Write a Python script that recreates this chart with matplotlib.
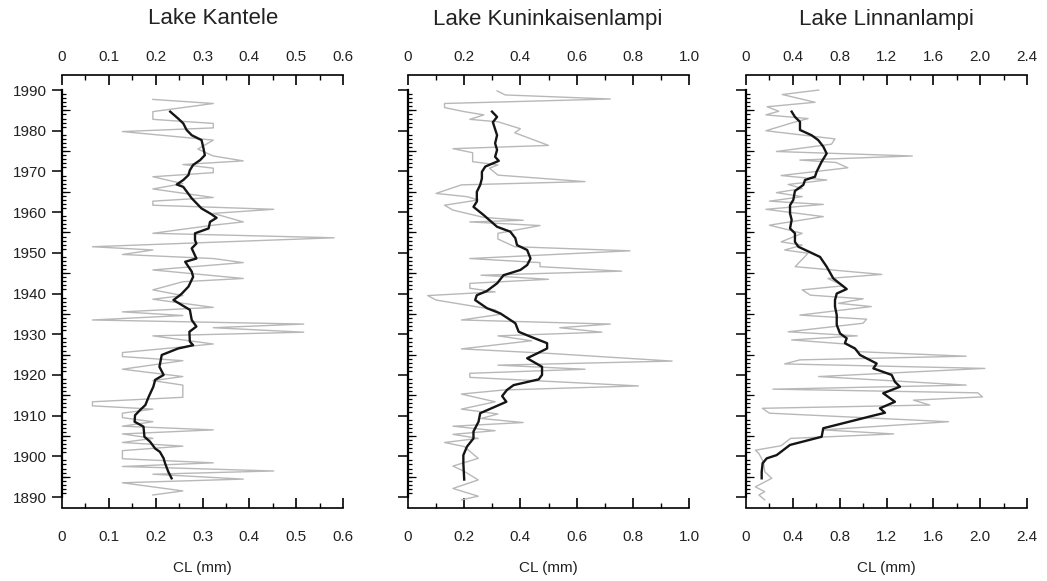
import matplotlib
matplotlib.use("Agg")
import matplotlib.pyplot as plt
from matplotlib.ticker import MultipleLocator, FixedLocator, NullFormatter

plt.rcParams['font.family'] = ['Liberation Sans', 'DejaVu Sans']

# ---------------- data ----------------
titles = ["Lake Kantele", "Lake Kuninkaisenlampi", "Lake Linnanlampi"]
x_max = [0.6, 1.0, 2.4]
x_major = [0.1, 0.2, 0.4]
x_ticklabels = [["0", "0.1", "0.2", "0.3", "0.4", "0.5", "0.6"],
                ["0", "0.2", "0.4", "0.6", "0.8", "1.0"],
                ["0", "0.4", "0.8", "1.2", "1.6", "2.0", "2.4"]]
year_ticks = [1890, 1900, 1910, 1920, 1930, 1940, 1950, 1960, 1970, 1980, 1990]

kantele_raw_year = [1987.7, 1986.7, 1984.7, 1982.8, 1981.8, 1980.7, 1979.8, 1977.7, 1975.5, 1973.8,
                    1972.6, 1971.7, 1970.8, 1969.7, 1968.7, 1967.0, 1965.7, 1963.6, 1962.7, 1961.7,
                    1960.7, 1959.7, 1957.6, 1956.8, 1954.8, 1953.7, 1951.5, 1950.7, 1949.6, 1948.6,
                    1947.6, 1945.8, 1943.7, 1942.9, 1940.9, 1939.5, 1938.6, 1936.6, 1935.5, 1934.6,
                    1933.5, 1932.5, 1931.6, 1930.5, 1929.6, 1927.6, 1925.5, 1924.5, 1923.5, 1921.4,
                    1919.6, 1918.6, 1917.5, 1914.5, 1913.4, 1912.4, 1911.6, 1910.6, 1909.5, 1908.5,
                    1907.4, 1906.5, 1905.5, 1904.4, 1903.4, 1902.5, 1901.4, 1899.4, 1898.4, 1897.5,
                    1896.4, 1895.6, 1894.4, 1893.5, 1891.5, 1890.5]
kantele_raw_cl = [0.194, 0.323, 0.194, 0.194, 0.323, 0.323, 0.129, 0.323, 0.290, 0.323,
                  0.387, 0.258, 0.323, 0.323, 0.194, 0.258, 0.194, 0.323, 0.194, 0.194,
                  0.452, 0.323, 0.387, 0.323, 0.194, 0.581, 0.065, 0.194, 0.129, 0.323,
                  0.387, 0.194, 0.387, 0.258, 0.194, 0.258, 0.194, 0.323, 0.129, 0.258,
                  0.065, 0.516, 0.323, 0.516, 0.194, 0.323, 0.129, 0.129, 0.258, 0.129,
                  0.258, 0.194, 0.258, 0.258, 0.065, 0.065, 0.194, 0.129, 0.129, 0.194,
                  0.129, 0.323, 0.129, 0.194, 0.129, 0.258, 0.129, 0.129, 0.323, 0.129,
                  0.452, 0.194, 0.387, 0.129, 0.258, 0.194]
kantele_smooth_year = [1984.7, 1983.0, 1981.8, 1980.2, 1978.9, 1977.7, 1975.7, 1974.0, 1972.8, 1971.6,
                       1970.3, 1969.1, 1967.9, 1966.8, 1966.2, 1963.4, 1960.9, 1959.5, 1958.6, 1957.6,
                       1956.0, 1954.8, 1953.1, 1952.3, 1951.1, 1948.6, 1947.8, 1945.4, 1944.1, 1941.7,
                       1940.0, 1939.6, 1938.4, 1936.0, 1933.5, 1931.9, 1930.6, 1928.2, 1927.3, 1926.5,
                       1924.9, 1922.0, 1920.0, 1918.8, 1917.1, 1914.6, 1912.6, 1911.4, 1910.1, 1908.5,
                       1907.3, 1904.8, 1903.6, 1901.9, 1901.1, 1899.5, 1898.3, 1896.2, 1894.6]
kantele_smooth_cl = [0.231, 0.248, 0.259, 0.266, 0.277, 0.298, 0.302, 0.305, 0.295, 0.280,
                     0.273, 0.270, 0.259, 0.245, 0.259, 0.277, 0.298, 0.319, 0.330, 0.316,
                     0.313, 0.284, 0.284, 0.287, 0.277, 0.287, 0.263, 0.277, 0.280, 0.270,
                     0.256, 0.252, 0.238, 0.273, 0.277, 0.287, 0.272, 0.273, 0.280, 0.248,
                     0.213, 0.208, 0.217, 0.199, 0.195, 0.185, 0.178, 0.167, 0.156, 0.155,
                     0.174, 0.176, 0.188, 0.199, 0.209, 0.217, 0.220, 0.227, 0.234]

kun_raw_year = [1989.8, 1988.8, 1987.8, 1986.7, 1985.7, 1984.7, 1983.9, 1982.8, 1982.2, 1980.5,
                1979.5, 1976.4, 1975.6, 1974.6, 1972.4, 1971.6, 1970.8, 1969.1, 1967.5, 1966.7,
                1964.6, 1963.8, 1963.0, 1961.7, 1960.5, 1958.7, 1958.0, 1957.6, 1956.7, 1954.8,
                1953.4, 1951.5, 1950.5, 1948.6, 1947.6, 1946.6, 1945.5, 1944.5, 1943.5, 1942.5,
                1941.3, 1940.4, 1939.5, 1938.4, 1936.0, 1934.9, 1933.5, 1932.5, 1931.6, 1930.5,
                1929.6, 1928.4, 1926.4, 1925.3, 1923.4, 1922.4, 1921.4, 1920.4, 1919.4, 1917.3,
                1916.3, 1915.3, 1913.4, 1911.6, 1910.4, 1909.3, 1908.3, 1907.4, 1906.3, 1905.4,
                1904.4, 1903.4, 1902.4, 1899.5, 1897.6, 1896.3, 1894.2, 1892.1, 1890.2, 1889.3]
kun_raw_cl = [0.317, 0.346, 0.72, 0.13, 0.13, 0.20, 0.27, 0.22, 0.32, 0.40,
              0.38, 0.50, 0.16, 0.23, 0.23, 0.32, 0.29, 0.32, 0.63, 0.19,
              0.10, 0.21, 0.25, 0.13, 0.16, 0.27, 0.41, 0.22, 0.47, 0.32,
              0.32, 0.38, 0.79, 0.22, 0.47, 0.47, 0.76, 0.26, 0.50, 0.22,
              0.22, 0.31, 0.07, 0.10, 0.31, 0.33, 0.19, 0.72, 0.54, 0.69,
              0.32, 0.44, 0.19, 0.50, 0.94, 0.32, 0.63, 0.22, 0.22, 0.82,
              0.34, 0.19, 0.31, 0.19, 0.32, 0.26, 0.41, 0.16, 0.31, 0.16,
              0.25, 0.13, 0.20, 0.25, 0.16, 0.20, 0.25, 0.16, 0.25, 0.19]
kun_smooth_year = [1984.7, 1983.4, 1982.1, 1978.9, 1976.9, 1975.3, 1973.6, 1972.6, 1971.2, 1969.9,
                   1968.3, 1966.7, 1965.0, 1962.6, 1961.3, 1959.3, 1956.4, 1955.2, 1953.6, 1951.9,
                   1950.7, 1948.6, 1947.0, 1945.8, 1944.5, 1942.5, 1940.6, 1939.6, 1938.4, 1936.4,
                   1935.1, 1932.7, 1930.6, 1929.4, 1927.8, 1926.5, 1925.3, 1924.1, 1922.0, 1920.0,
                   1918.9, 1917.5, 1916.3, 1914.8, 1913.4, 1912.4, 1910.6, 1908.5, 1906.1, 1904.4,
                   1902.4, 1900.3, 1898.3, 1894.3]
kun_smooth_cl = [0.299, 0.317, 0.302, 0.317, 0.310, 0.317, 0.310, 0.323, 0.275, 0.263,
                 0.263, 0.257, 0.245, 0.245, 0.233, 0.269, 0.317, 0.364, 0.382, 0.388,
                 0.424, 0.436, 0.424, 0.400, 0.340, 0.317, 0.280, 0.245, 0.239, 0.281,
                 0.329, 0.382, 0.394, 0.436, 0.495, 0.495, 0.460, 0.424, 0.477, 0.477,
                 0.465, 0.376, 0.352, 0.335, 0.350, 0.317, 0.257, 0.251, 0.233, 0.233,
                 0.210, 0.197, 0.197, 0.200]

lin_raw_year = [1990.0, 1988.9, 1987.0, 1985.9, 1984.8, 1983.9, 1983.0, 1982.0, 1980.0, 1978.0,
                1976.7, 1974.9, 1973.8, 1972.8, 1972.2, 1970.9, 1969.0, 1967.9, 1966.8, 1965.8,
                1964.8, 1963.8, 1962.7, 1961.9, 1960.7, 1958.9, 1956.8, 1954.8, 1952.7, 1951.9,
                1950.7, 1949.9, 1946.6, 1944.7, 1943.7, 1941.9, 1940.9, 1939.6, 1938.7, 1937.6,
                1936.8, 1934.7, 1933.7, 1932.7, 1930.6, 1929.6, 1928.6, 1927.6, 1925.7, 1924.6,
                1923.7, 1922.7, 1921.6, 1919.6, 1917.5, 1916.5, 1915.6, 1914.6, 1913.8, 1912.6,
                1911.8, 1910.6, 1908.5, 1906.5, 1905.5, 1904.4, 1902.6, 1901.5, 1900.7, 1898.5,
                1896.2, 1894.6, 1892.5, 1891.3, 1890.5, 1889.3]
lin_raw_cl = [0.62, 0.31, 0.59, 0.18, 0.28, 0.17, 0.53, 0.40, 0.17, 0.76,
              0.73, 0.26, 1.42, 0.46, 0.77, 0.87, 0.30, 0.69, 0.36, 0.48,
              0.26, 0.48, 0.20, 0.66, 0.17, 0.66, 0.20, 0.48, 0.30, 0.48,
              0.33, 0.53, 0.42, 1.16, 0.70, 0.83, 0.48, 0.55, 1.00, 0.79,
              1.07, 0.46, 1.03, 1.00, 0.36, 0.95, 0.39, 0.85, 0.97, 1.88,
              0.46, 0.33, 2.04, 0.62, 1.88, 0.23, 1.98, 2.02, 1.43, 1.57,
              0.14, 0.20, 1.73, 0.66, 1.26, 0.38, 0.30, 0.08, 0.11, 0.15,
              0.16, 0.22, 0.08, 0.16, 0.11, 0.16]
lin_smooth_year = [1984.7, 1983.4, 1982.2, 1980.2, 1978.9, 1977.7, 1976.1, 1974.4, 1972.4, 1969.9,
                   1968.7, 1967.9, 1966.7, 1965.2, 1963.0, 1961.7, 1959.7, 1958.1, 1956.0, 1954.8,
                   1952.7, 1951.5, 1949.0, 1946.6, 1943.7, 1941.1, 1940.0, 1938.4, 1936.8, 1934.7,
                   1932.3, 1930.2, 1929.0, 1927.8, 1926.5, 1924.9, 1922.8, 1921.6, 1920.0, 1918.3,
                   1917.1, 1915.5, 1913.4, 1911.8, 1910.7, 1910.1, 1906.9, 1904.8, 1902.8, 1900.3,
                   1899.5, 1898.3, 1896.2, 1894.6]
lin_smooth_cl = [0.390, 0.418, 0.461, 0.461, 0.560, 0.617, 0.660, 0.689, 0.646, 0.603,
                 0.589, 0.504, 0.490, 0.418, 0.404, 0.376, 0.376, 0.390, 0.376, 0.418,
                 0.418, 0.447, 0.632, 0.689, 0.746, 0.860, 0.775, 0.760, 0.760, 0.775,
                 0.775, 0.803, 0.860, 0.845, 0.931, 0.974, 1.116, 1.088, 1.244, 1.272,
                 1.315, 1.172, 1.272, 1.144, 1.187, 1.101, 0.660, 0.646, 0.376, 0.262,
                 0.177, 0.142, 0.134, 0.134]

raw_years = [kantele_raw_year, kun_raw_year, lin_raw_year]
raw_vals = [kantele_raw_cl, kun_raw_cl, lin_raw_cl]
smooth_years = [kantele_smooth_year, kun_smooth_year, lin_smooth_year]
smooth_vals = [kantele_smooth_cl, kun_smooth_cl, lin_smooth_cl]

# ---------------- figure ----------------
W, H = 1047, 581
fig = plt.figure(figsize=(W / 100, H / 100), dpi=100)
lefts_px = [62, 408, 746]
title_cx_px = [213, 548, 886]
width_px = 281
top_px, bottom_px = 75, 508
txt = '#222222'

for i in range(3):
    ax = fig.add_axes([lefts_px[i] / W, 1 - bottom_px / H, width_px / W, (bottom_px - top_px) / H])
    ax.plot(raw_vals[i], raw_years[i], color='#b8b8b8', lw=1.0, zorder=2)
    ax.plot(smooth_vals[i], smooth_years[i], color='#151515', lw=1.7, zorder=3)
    ax.set_xlim(0, x_max[i])
    ax.set_ylim(1887.3, 1993.7)

    for s in ['right', 'top']:
        ax.spines[s].set_visible(False)
    ax.spines['left'].set_bounds(1890, 1990)
    ax.spines['left'].set_linewidth(1.6)
    ax.spines['bottom'].set_linewidth(1.2)

    # y axis
    ax.yaxis.set_major_locator(FixedLocator(year_ticks))
    ax.yaxis.set_minor_locator(FixedLocator(list(range(1890, 1991))))
    ax.tick_params(axis='y', which='major', direction='out', length=7, width=1.1,
                   labelsize=11, pad=4, labelleft=(i == 0), labelcolor=txt)
    ax.tick_params(axis='y', which='minor', direction='in', length=3, width=0.9)
    sec_y = ax.secondary_yaxis('left')
    sec_y.spines['left'].set_visible(False)
    sec_y.yaxis.set_major_locator(FixedLocator(list(range(1895, 1990, 10))))
    sec_y.yaxis.set_major_formatter(NullFormatter())
    sec_y.tick_params(axis='y', direction='in', length=5.5, width=0.9)

    # bottom x axis
    ticks = [k * x_major[i] for k in range(len(x_ticklabels[i]))]
    ax.xaxis.set_major_locator(FixedLocator(ticks))
    ax.set_xticklabels(x_ticklabels[i])
    ax.xaxis.set_minor_locator(MultipleLocator(x_major[i] / 2))
    ax.tick_params(axis='x', which='major', direction='in', length=7, width=1.2,
                   labelsize=11, pad=16, labelcolor=txt)
    ax.tick_params(axis='x', which='minor', direction='in', length=3.5, width=1.0)

    # top x axis
    sec_x = ax.secondary_xaxis('top')
    sec_x.spines['top'].set_linewidth(1.2)
    sec_x.xaxis.set_major_locator(FixedLocator(ticks))
    sec_x.set_xticklabels(x_ticklabels[i])
    sec_x.xaxis.set_minor_locator(MultipleLocator(x_major[i] / 2))
    sec_x.tick_params(axis='x', which='major', direction='in', length=7, width=1.2,
                      labelsize=11, pad=8, labelcolor=txt)
    sec_x.tick_params(axis='x', which='minor', direction='in', length=3.5, width=1.0)

    cx = (lefts_px[i] + width_px / 2) / W
    fig.text(title_cx_px[i] / W, 1 - 19 / H, titles[i], ha='center', va='center',
             fontsize=16, color=txt)
    fig.text(cx, 1 - 568 / H, "CL (mm)", ha='center', va='center', fontsize=11, color=txt)

fig.savefig("out.png", dpi=100)
